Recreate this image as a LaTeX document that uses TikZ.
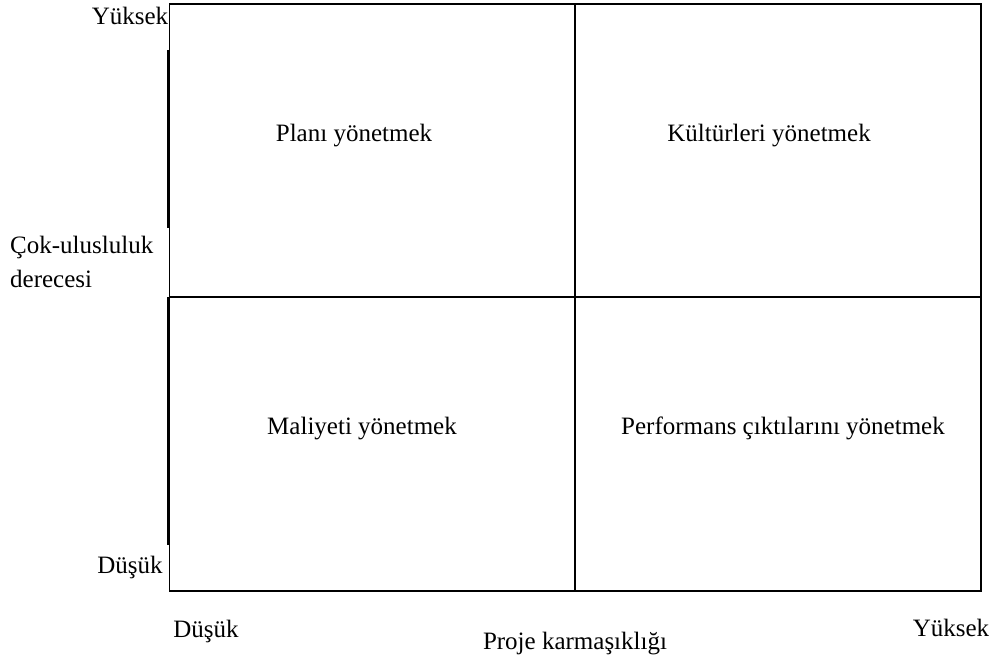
\documentclass[tikz,border=0pt]{standalone}
\usepackage{fontspec}
\setmainfont{Liberation Serif}
\begin{document}
\begin{tikzpicture}[x=1pt,y=-1pt,
  lbl/.style={inner sep=0pt,font=\fontsize{25}{30}\selectfont,anchor=base},
  frame/.style={line width=1.6pt,black},
  thinedge/.style={line width=0.8pt,black},
  thickedge/.style={line width=2pt,black}]
\useasboundingbox (0,0) rectangle (995,658);
% frame
\coordinate (tl) at (169,4);
\coordinate (tr) at (981,4);
\coordinate (br) at (981,591);
\coordinate (bl) at (169,591);
\coordinate (tm) at (575,4);
\coordinate (bm) at (575,591);
\coordinate (ml) at (169,297);
\coordinate (mr) at (981,297);
\draw[frame] (tl) -- (tr) -- (br) -- (bl);
\draw[thinedge] (tl) -- (bl);
\draw[frame] (tm) -- (bm);
\draw[frame] (ml) -- (mr);
\coordinate (a1) at (167.5,50);
\coordinate (a2) at (167.5,228);
\coordinate (b1) at (167.5,297);
\coordinate (b2) at (167.5,545);
\draw[thickedge] (a1) -- (a2);
\draw[thickedge] (b1) -- (b2);
% labels
\node[lbl] (yl) at (130,25) {Yüksek};
\node[lbl] (q1) at (354,141) {Planı yönetmek};
\node[lbl] (q2) at (769,141) {Kültürleri yönetmek};
\node[lbl,anchor=base west] (yax) at (10,253) {Çok-ulusluluk};
\node[lbl,anchor=base west] (yax2) at (10,287) {derecesi};
\node[lbl] (q3) at (362,434) {Maliyeti yönetmek};
\node[lbl] (q4) at (783,434) {Performans çıktılarını yönetmek};
\node[lbl] (dl) at (130,573) {Düşük};
\node[lbl] (db) at (206,637) {Düşük};
\node[lbl] (xax) at (575,649) {Proje karmaşıklığı};
\node[lbl] (yb) at (951,636) {Yüksek};
\end{tikzpicture}
\end{document}
